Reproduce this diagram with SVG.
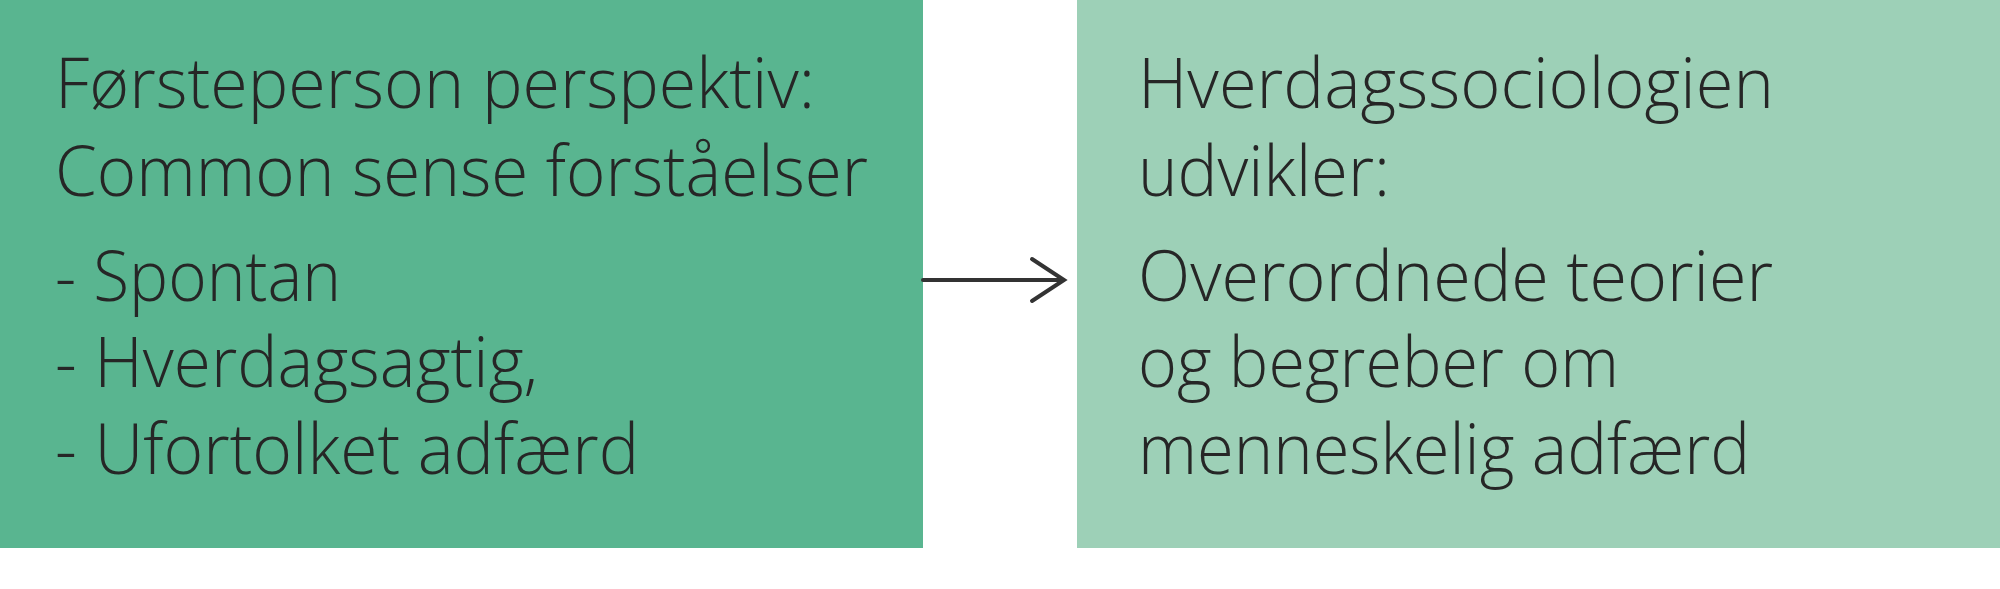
<svg xmlns="http://www.w3.org/2000/svg" width="2000" height="589" viewBox="0 0 2000 589">
<style>
.t{font-family:"Open Sans","Noto Sans","Liberation Sans",sans-serif;font-size:70px;font-weight:300;fill:#262626;}
.conn{fill:none;stroke:#333333;stroke-width:4;stroke-linecap:round;stroke-linejoin:miter;}
</style>
<rect x="0" y="0" width="2000" height="589" fill="#ffffff"/>
<g id="node-left">
<rect x="0" y="0" width="923" height="548" fill="#59b590"/>
<text class="t" x="55" y="108" textLength="760" lengthAdjust="spacingAndGlyphs">Førsteperson perspektiv:</text>
<text class="t" x="55" y="196" textLength="813" lengthAdjust="spacingAndGlyphs">Common sense forståelser</text>
<text class="t" x="55" y="301" textLength="286" lengthAdjust="spacingAndGlyphs">- Spontan</text>
<text class="t" x="55" y="387" textLength="483" lengthAdjust="spacingAndGlyphs">- Hverdagsagtig,</text>
<text class="t" x="55" y="474" textLength="584" lengthAdjust="spacingAndGlyphs">- Ufortolket adfærd</text>
</g>
<g id="node-right">
<rect x="1077" y="0" width="923" height="548" fill="#9dd0b7"/>
<text class="t" x="1138" y="108" textLength="636" lengthAdjust="spacingAndGlyphs">Hverdagssociologien</text>
<text class="t" x="1138" y="196" textLength="252" lengthAdjust="spacingAndGlyphs">udvikler:</text>
<text class="t" x="1138" y="301" textLength="635" lengthAdjust="spacingAndGlyphs">Overordnede teorier</text>
<text class="t" x="1138" y="387" textLength="481" lengthAdjust="spacingAndGlyphs">og begreber om</text>
<text class="t" x="1138" y="474" textLength="612" lengthAdjust="spacingAndGlyphs">menneskelig adfærd</text>
</g>
<g id="connectors">
<line class="conn" x1="923" y1="280" x2="1063" y2="280"/>
<polyline class="conn" points="1032,259 1064,280 1032,301"/>
</g>
</svg>
